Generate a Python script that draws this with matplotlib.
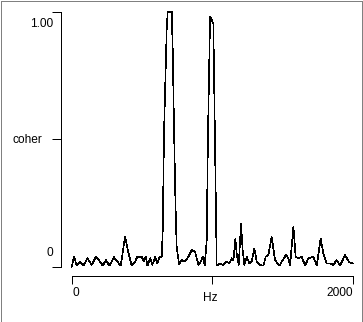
import matplotlib
matplotlib.use("Agg")
import matplotlib.pyplot as plt
from matplotlib.patches import Rectangle

# ---- data ----
freq_hz = [0, 17, 36, 59, 83, 112, 142, 173, 202, 221, 244, 268, 301, 325, 349,
           380, 399, 427, 451, 467, 498, 515, 527, 539, 558, 574, 593, 610, 624,
           641, 648, 657, 676, 683, 712, 719, 728, 738, 747, 764, 783, 807, 830,
           854, 878, 902, 913, 932, 947, 961, 970, 985, 996, 1008, 1020, 1032,
           1056, 1075, 1103, 1122, 1139, 1151, 1165, 1174, 1189, 1205, 1217,
           1229, 1246, 1265, 1281, 1300, 1317, 1340, 1364, 1381, 1400, 1423,
           1447, 1478, 1502, 1525, 1542, 1554, 1578, 1594, 1613, 1637, 1661,
           1684, 1708, 1720, 1744, 1772, 1791, 1815, 1839, 1862, 1886, 1910,
           1945, 1976, 2000]
coherence = [0.000, 0.039, 0.004, 0.020, 0.004, 0.033, 0.007, 0.039, 0.020, 0.004,
             0.026, 0.004, 0.037, 0.020, 0.004, 0.118, 0.065, 0.004, 0.020, 0.039,
             0.039, 0.020, 0.039, 0.004, 0.033, 0.007, 0.037, 0.013, 0.037, 0.039,
             0.144, 0.524, 0.929, 1.000, 1.000, 0.851, 0.550, 0.262, 0.079, 0.010,
             0.026, 0.020, 0.039, 0.065, 0.059, 0.007, 0.013, 0.039, 0.007, 0.105,
             0.524, 0.982, 0.969, 0.955, 0.484, 0.004, 0.013, 0.007, 0.020, 0.013,
             0.033, 0.026, 0.111, 0.052, 0.007, 0.168, 0.065, 0.007, 0.039, 0.013,
             0.020, 0.072, 0.020, 0.007, 0.004, 0.039, 0.046, 0.118, 0.026, 0.004,
             0.026, 0.046, 0.033, 0.004, 0.157, 0.039, 0.033, 0.039, 0.004, 0.033,
             0.037, 0.039, 0.004, 0.111, 0.052, 0.013, 0.013, 0.007, 0.026, 0.004,
             0.046, 0.017, 0.013]
x_ticks = [0, 1000, 2000]
y_ticks = [0, 0.5, 1.0]
x_label = "Hz"
y_label = "coher"
y_top_label = "1.00"
y_bottom_label = "0"
x_left_label = "0"
x_right_label = "2000"

W, H = 363, 322
fig = plt.figure(figsize=(W / 100, H / 100), dpi=100)
fig.patch.set_facecolor("white")

def fx(px):
    return px / W

def fy(py):
    return 1 - py / H

LW = 0.72  # one pixel

# axes: left spine at x=61, top y=12, bottom y=266.7, right at 2000 Hz (x=352.7)
ax_left, ax_right, ax_top, ax_bottom = 61, 352.7, 12, 266.7
ax = fig.add_axes([fx(ax_left), fy(ax_bottom), fx(ax_right - ax_left), (ax_bottom - ax_top) / H])
ax.set_facecolor("white")

px_per_hz = (352.7 - 71.7) / 2000
ax.set_xlim(-(71.7 - ax_left) / px_per_hz, 2000)
ax.set_ylim(0, 1)

ax.plot(freq_hz, coherence, color="black", lw=0.45, clip_on=False, antialiased=False)

for s in ["top", "right"]:
    ax.spines[s].set_visible(False)
for s in ["left", "bottom"]:
    ax.spines[s].set_linewidth(LW)
    ax.spines[s].set_antialiased(False)
ax.spines["bottom"].set_bounds(0, 2000)
ax.spines["bottom"].set_position(("outward", 9.3 * 72 / 100))

ax.set_xticks(x_ticks)
ax.set_yticks(y_ticks)
ax.set_xticklabels([])
ax.set_yticklabels([])
ax.tick_params(axis="x", direction="out", length=8 * 0.72, width=LW, color="black")
ax.tick_params(axis="y", direction="out", length=9.3 * 0.72, width=LW, color="black")

font = dict(family=["Liberation Sans", "DejaVu Sans"], fontsize=8.6, color="black")
fig.text(fx(52.7), fy(24), y_top_label, ha="right", va="center", **font)
fig.text(fx(12.7), fy(140), y_label, ha="left", va="center", **font)
fig.text(fx(52.7), fy(253), y_bottom_label, ha="right", va="center", **font)
fig.text(fx(72.2), fy(292.7), x_left_label, ha="left", va="center", **font)
fig.text(fx(210.7), fy(297.7), x_label, ha="center", va="center", **font)
fig.text(fx(353), fy(292.7), x_right_label, ha="right", va="center", **font)

# grey frame around the picture
fig.patches.append(Rectangle((fx(0.5), fy(321.5)), fx(361), 321 / H,
                             transform=fig.transFigure, fill=False,
                             edgecolor="#808080", lw=LW, antialiased=False,
                             figure=fig))

fig.savefig("out.png", dpi=100, facecolor="white")
